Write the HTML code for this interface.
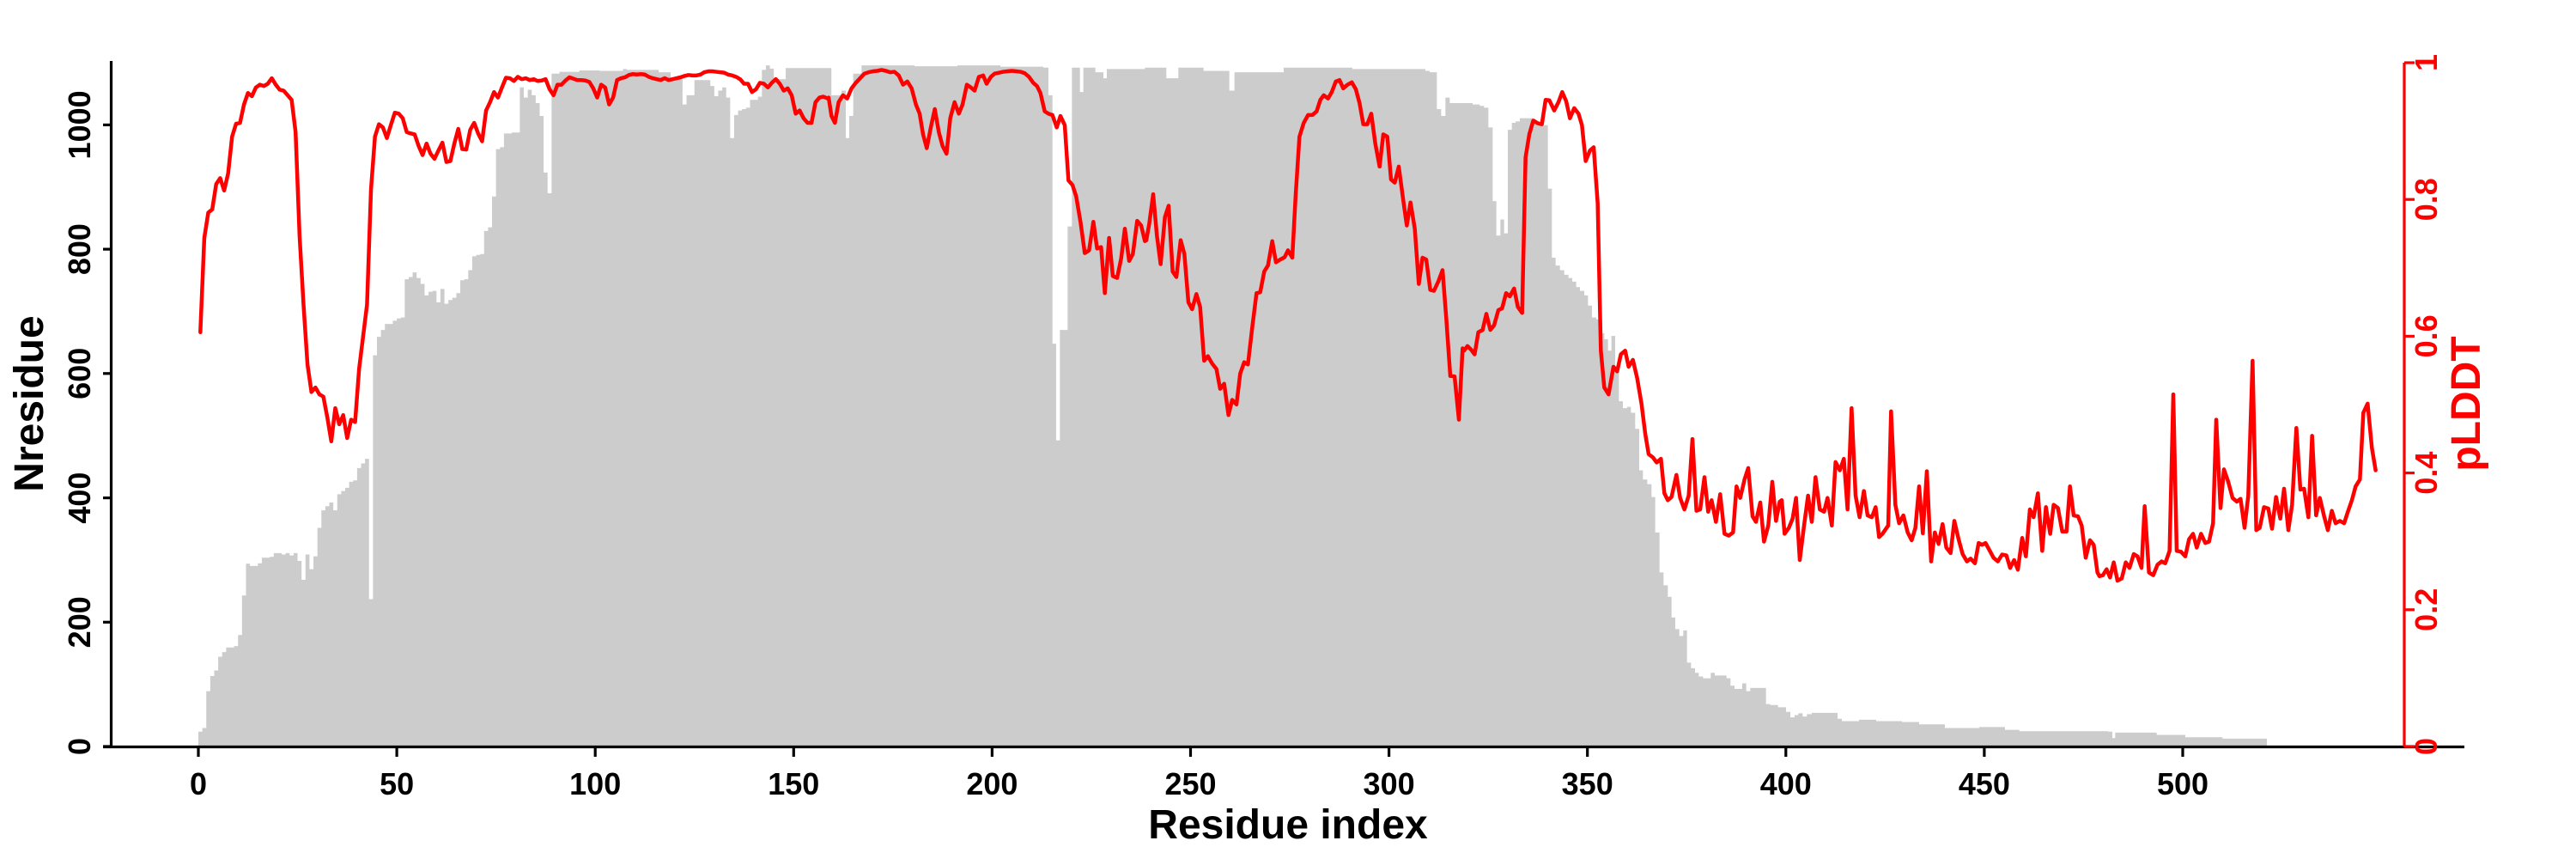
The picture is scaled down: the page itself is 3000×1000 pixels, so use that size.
<!DOCTYPE html>
<html><head><meta charset="utf-8"><style>
html,body{margin:0;padding:0;background:#fff;}
svg{display:block;}
text{font-family:"Liberation Sans",Arial,Helvetica,sans-serif;font-weight:bold;}
</style></head><body>
<svg xmlns="http://www.w3.org/2000/svg" width="3000" height="1000" viewBox="0 0 3000 1000">
<rect x="0" y="0" width="3000" height="1000" fill="#fff"/>
<!-- bars: residue coordinates 1..159 -->
<g transform="translate(231,60) scale(4.622,0.535714)" fill="#cccccc" stroke="none">
<path d="M0,1512 V1478 H1 V1470 H2 V1390 H3 V1357 H4 V1345 H5 V1315 H6 V1305 H7 V1295 H9 V1292 H10 V1268 H11 V1182 H12 V1113 H13 V1118 H15 V1112 H16 V1100 H18 V1098 H19 V1090 H21 V1093 H22 V1090 H23 V1095 H24 V1090 H25 V1107 H26 V1148 H27 V1093 H28 V1125 H29 V1097 H30 V1035 H31 V997 H32 V988 H33 V980 H34 V997 H35 V962 H36 V955 H37 V948 H38 V935 H39 V932 H40 V905 H41 V895 H42 V885 H43 V1190 H44 V660 H45 V620 H46 V605 H47 V592 H49 V585 H50 V580 H51 V578 H52 V495 H53 V490 H54 V480 H55 V492 H56 V505 H57 V530 H58 V522 H59 V520 H60 V545 H61 V516 H62 V548 H63 V540 H64 V535 H65 V525 H66 V497 H67 V495 H68 V475 H69 V445 H70 V442 H71 V440 H72 V390 H73 V382 H74 V315 H75 V212 H76 V208 H77 V178 H79 V176 H81 V78 H82 V100 H83 V83 H84 V95 H85 V112 H86 V140 H87 V263 H88 V308 H89 V48 H91 V44 H96 V41 H101 V42 H107 V38 H108 V40 H116 V45 H119 V60 H122 V115 H123 V95 H125 V62 H129 V75 H130 V97 H131 V85 H132 V78 H133 V100 H134 V188 H135 V138 H136 V128 H137 V125 H138 V122 H139 V105 H141 V98 H142 V40 H143 V30 H144 V37 H145 V60 H148 V36 H159.5 V1512 Z"/>
</g>
<!-- bars: zoom-coordinate segments -->
<g transform="translate(965,60) scale(0.333333,0.535714)" fill="#cccccc">
<path d="M-3,1512 V95 H45 V85 H60 V188 H72 V140 H86 V48 H115 V30 H300 V32 H450 V30 H600 V33 H750 V35 H768 V95 H782 V635 H795 V845 H808 V605 H835 V380 H850 V35 H878 V88 H890 V35 H932 V45 H960 V58 H972 V38 H1140 V1512 Z"/>
</g>
<g transform="translate(1335,60) scale(0.333333,0.535714)" fill="#cccccc">
<path d="M-5,1512 V35 H70 V58 H112 V35 H200 V42 H290 V85 H308 V45 H480 V35 H720 V38 H975 V42 H990 V45 H1015 V125 H1030 V140 H1045 V100 H1060 V112 H1140 V1512 Z"/>
</g>
<g transform="translate(1705,60) scale(0.333333,0.535714)" fill="#cccccc">
<path d="M-5,1512 V115 H55 V118 H70 V122 H85 V165 H100 V325 H113 V400 H127 V365 H140 V395 H153 V170 H167 V155 H180 V152 H195 V145 H240 V155 H260 V160 H293 V298 H307 V448 H320 V465 H335 V475 H350 V485 H365 V492 H378 V500 H392 V512 H405 V520 H420 V530 H433 V552 H447 V578 H462 V582 H475 V612 H490 V625 H503 V650 H515 V618 H528 V690 H541 V760 H555 V775 H570 V772 H583 V785 H598 V820 H612 V910 H625 V930 H640 V940 H655 V968 H668 V1045 H683 V1132 H697 V1160 H712 V1185 H725 V1230 H738 V1255 H752 V1270 H766 V1258 H779 V1328 H793 V1340 H807 V1350 H820 V1358 H835 V1362 H862 V1350 H876 V1356 H917 V1362 H931 V1378 H945 V1385 H972 V1373 H986 V1390 H1000 V1383 H1055 V1418 H1070 V1420 H1097 V1425 H1110 V1435 H1140 V1512 Z"/>
</g>
<g transform="translate(2075,60) scale(0.333333,0.535714)" fill="#cccccc">
<path d="M-5,1512 V1425 H15 V1447 H45 V1442 H58 V1438 H73 V1445 H88 V1440 H105 V1437 H195 V1450 H210 V1455 H270 V1452 H330 V1455 H420 V1457 H480 V1462 H570 V1470 H690 V1468 H780 V1474 H830 V1477 H1140 V1512 Z"/>
</g>
<g transform="translate(2445,60) scale(0.333333,0.535714)" fill="#cccccc">
<path d="M-5,1512 V1478 H45 V1492 H55 V1480 H200 V1485 H300 V1490 H430 V1493 H585 V1512 Z"/>
</g>

<!-- pLDDT line -->
<g fill="none" stroke="#ff0000" stroke-width="4.5" stroke-linejoin="round" stroke-linecap="round">
<g transform="translate(231,60) scale(4.622,0.535714)">
<polyline vector-effect="non-scaling-stroke" points="0.5,610 1.5,405 2.5,350 3.5,343 4.5,288 5.5,275 6.5,302 7.5,265 8.5,185 9.5,157 10.5,155 11.5,115 12.5,90 13.5,97 14.5,78 15.5,72 16.5,75 17.5,70 18.5,58 19.5,72 20.5,83 21.5,85 22.5,95 23.5,105 24.5,175 25.5,400 26.5,550 27.5,680 28.5,740 29.5,730 30.5,745 31.5,750 32.5,795 33.5,847 34.5,775 35.5,810 36.5,790 37.5,840 38.5,800 39.5,805 40.5,690 41.5,620 42.5,550 43.5,300 44.5,185 45.5,158 46.5,165 47.5,188 48.5,160 49.5,133 50.5,135 51.5,145 52.5,175 53.5,178 54.5,180 55.5,205 56.5,225 57.5,200 58.5,222 59.5,233 60.5,215 61.5,198 62.5,240 63.5,238 64.5,200 65.5,168 66.5,212 67.5,213 68.5,170 69.5,155 70.5,178 71.5,195 72.5,128 73.5,110 74.5,88 75.5,100 76.5,78 77.5,57 78.5,58 79.5,64 80.5,55 81.5,60 82.5,58 83.5,62 84.5,60 85.5,64 86.5,63 87.5,60 88.5,82 89.5,95 90.5,72 91.5,72 92.5,63 93.5,56 94.5,59 95.5,62 96.5,62 97.5,63 98.5,66 99.5,80 100.5,100 101.5,72 102.5,78 103.5,115 104.5,100 105.5,62 106.5,58 107.5,56 108.5,51 109.5,49 110.5,50 111.5,49 112.5,50 113.5,55 114.5,58 115.5,60 116.5,62 117.5,58 118.5,62 119.5,60 120.5,58 121.5,56 122.5,53 123.5,51 124.5,52 125.5,52 126.5,50 127.5,45 128.5,43 129.5,43 130.5,44 131.5,45 132.5,46 133.5,50 134.5,52 135.5,55 136.5,60 137.5,70 138.5,70 139.5,88 140.5,82 141.5,68 142.5,70 143.5,78 144.5,68 145.5,60 146.5,70 147.5,85 148.5,80 149.5,95 150.5,135 151.5,128 152.5,145 153.5,155 154.5,155 155.5,110 156.5,100 157.5,98 158.5,102"/>
</g>
<g transform="translate(965,60) scale(0.333333,0.535714)">
<polyline vector-effect="non-scaling-stroke" points="0,100 10,140 22,155 35,110 50,95 65,102 80,80 95,68 110,58 125,48 140,45 155,43 170,42 185,40 200,42 215,45 230,44 245,52 260,72 275,65 290,80 305,115 318,135 330,180 343,210 357,165 371,125 385,175 398,205 412,222 425,145 440,110 455,135 468,115 483,72 497,78 510,85 525,55 540,52 552,70 567,55 580,48 595,46 610,44 625,43 640,42 655,43 670,44 685,47 700,55 715,68 728,75 740,90 755,130 768,135 782,138 797,165 810,140 825,160 838,280 852,290 865,315 880,370 895,438 910,432 925,370 938,428 952,425 965,525 980,405 993,488 1008,492 1022,450 1035,385 1050,455 1063,440 1078,368 1092,378 1105,412 1110,410"/>
</g>
<g transform="translate(1335,60) scale(0.333333,0.535714)">
<polyline vector-effect="non-scaling-stroke" points="0,410 10,375 24,310 37,400 50,462 65,360 78,335 92,478 105,490 120,410 133,440 147,545 160,560 175,527 188,555 202,672 215,662 230,678 245,690 258,733 272,722 287,790 300,757 315,767 328,700 342,675 355,680 370,600 385,525 398,523 412,478 425,465 440,412 453,458 468,452 483,447 495,432 510,448 522,310 535,185 550,155 565,138 580,138 595,130 608,105 620,95 635,102 648,88 662,65 675,62 688,80 703,72 718,67 732,82 745,112 758,158 772,158 786,135 800,200 815,250 828,180 842,185 855,278 868,285 882,250 897,320 910,378 923,328 938,385 952,505 965,448 978,452 992,518 1005,520 1020,500 1035,475 1048,580 1062,705 1077,706 1092,800 1105,645 1110,650"/>
</g>
<g transform="translate(1705,60) scale(0.333333,0.535714)">
<polyline vector-effect="non-scaling-stroke" points="0,650 12,640 25,648 37,658 50,610 65,605 78,570 92,605 105,595 120,562 133,558 147,525 160,532 175,515 188,555 203,568 215,230 228,180 242,150 258,156 272,158 285,105 298,106 315,128 330,110 343,88 357,108 370,145 385,123 400,135 412,160 425,238 440,215 453,208 467,330 478,650 490,730 505,745 522,685 535,695 548,658 563,650 575,685 590,670 605,710 620,765 633,830 645,875 660,882 673,893 688,885 700,960 712,975 725,968 742,920 755,970 770,995 785,965 798,842 812,998 825,995 840,925 853,1000 865,975 880,1022 895,962 910,1048 925,1052 940,1045 952,945 965,970 980,930 993,905 1008,1010 1020,1022 1035,980 1048,1065 1063,1030 1077,935 1090,1020 1103,978 1110,975"/>
</g>
<g transform="translate(2075,60) scale(0.333333,0.535714)">
<polyline vector-effect="non-scaling-stroke" points="0,975 10,1048 25,1035 38,1015 50,970 63,1105 78,1030 92,965 105,1022 118,925 133,995 148,1000 160,970 175,1030 188,892 203,910 217,885 230,995 244,775 258,965 272,1012 287,955 300,1008 315,1012 328,990 340,1055 352,1048 372,1030 382,782 397,985 410,1025 425,1008 440,1045 454,1062 467,1035 480,945 493,1047 507,912 522,1108 535,1045 548,1070 562,1027 575,1078 590,1090 603,1020 618,1060 632,1092 647,1108 660,1102 675,1112 688,1068 700,1072 712,1068 727,1085 740,1100 755,1108 770,1093 785,1095 798,1122 812,1105 825,1126 840,1057 853,1097 867,995 880,1012 895,960 910,1085 923,990 938,1048 950,985 965,992 980,1043 995,1043 1007,945 1020,1008 1035,1010 1048,1030 1062,1100 1077,1062 1090,1072 1103,1132 1110,1140"/>
</g>
<g transform="translate(2445,60) scale(0.333333,0.535714)">
<polyline vector-effect="non-scaling-stroke" points="0,1140 12,1138 25,1125 37,1143 50,1110 63,1150 78,1145 92,1110 105,1122 120,1092 133,1097 147,1122 158,988 173,1132 188,1138 203,1115 217,1108 230,1112 245,1085 258,745 270,1085 285,1087 300,1097 313,1060 327,1048 340,1078 355,1048 370,1068 383,1065 397,1025 408,800 423,992 435,908 450,935 465,970 480,978 493,972 507,1035 520,965 535,672 548,1040 560,1035 575,990 590,993 603,1037 617,968 632,1015 645,950 660,1040 673,985 688,818 702,952 715,950 730,1012 743,835 757,1008 770,970 785,1010 798,1040 812,998 825,1025 840,1020 855,1025 868,1000 882,975 895,945 910,930 922,785 937,765 952,862 965,910"/>
</g>
</g>

<!-- axes -->
<g stroke="#000" stroke-width="3.2" fill="none">
<line x1="129.5" y1="71" x2="129.5" y2="870"/>
<line x1="120" y1="869.5" x2="2870" y2="869.5"/>
<line x1="120" y1="869" x2="129.5" y2="869"/>
<line x1="120" y1="724.3" x2="129.5" y2="724.3"/>
<line x1="120" y1="579.6" x2="129.5" y2="579.6"/>
<line x1="120" y1="434.8" x2="129.5" y2="434.8"/>
<line x1="120" y1="290.1" x2="129.5" y2="290.1"/>
<line x1="120" y1="145.4" x2="129.5" y2="145.4"/>
<line x1="231" y1="869" x2="231" y2="881"/>
<line x1="462.1" y1="869" x2="462.1" y2="881"/>
<line x1="693.2" y1="869" x2="693.2" y2="881"/>
<line x1="924.3" y1="869" x2="924.3" y2="881"/>
<line x1="1155.4" y1="869" x2="1155.4" y2="881"/>
<line x1="1386.5" y1="869" x2="1386.5" y2="881"/>
<line x1="1617.6" y1="869" x2="1617.6" y2="881"/>
<line x1="1848.7" y1="869" x2="1848.7" y2="881"/>
<line x1="2079.8" y1="869" x2="2079.8" y2="881"/>
<line x1="2310.9" y1="869" x2="2310.9" y2="881"/>
<line x1="2542" y1="869" x2="2542" y2="881"/>
</g>
<g stroke="#ff0000" stroke-width="3.2" fill="none">
<line x1="2800" y1="73" x2="2800" y2="869"/>
<line x1="2800" y1="869" x2="2812" y2="869"/>
<line x1="2800" y1="709.8" x2="2812" y2="709.8"/>
<line x1="2800" y1="550.6" x2="2812" y2="550.6"/>
<line x1="2800" y1="391.4" x2="2812" y2="391.4"/>
<line x1="2800" y1="232.2" x2="2812" y2="232.2"/>
<line x1="2800" y1="73" x2="2812" y2="73"/>
</g>

<!-- x tick labels -->
<g font-size="36" fill="#000" text-anchor="middle">
<text x="231" y="925">0</text>
<text x="462.1" y="925">50</text>
<text x="693.2" y="925">100</text>
<text x="924.3" y="925">150</text>
<text x="1155.4" y="925">200</text>
<text x="1386.5" y="925">250</text>
<text x="1617.6" y="925">300</text>
<text x="1848.7" y="925">350</text>
<text x="2079.8" y="925">400</text>
<text x="2310.9" y="925">450</text>
<text x="2542" y="925">500</text>
</g>
<!-- left tick labels -->
<g font-size="36" fill="#000" text-anchor="middle">
<text transform="translate(105,869) rotate(-90)">0</text>
<text transform="translate(105,724.3) rotate(-90)">200</text>
<text transform="translate(105,579.6) rotate(-90)">400</text>
<text transform="translate(105,434.8) rotate(-90)">600</text>
<text transform="translate(105,290.1) rotate(-90)">800</text>
<text transform="translate(105,145.4) rotate(-90)">1000</text>
</g>
<!-- right tick labels -->
<g font-size="36" fill="#ff0000" text-anchor="middle">
<text transform="translate(2838,869) rotate(-90)">0</text>
<text transform="translate(2838,709.8) rotate(-90)">0.2</text>
<text transform="translate(2838,550.6) rotate(-90)">0.4</text>
<text transform="translate(2838,391.4) rotate(-90)">0.6</text>
<text transform="translate(2838,232.2) rotate(-90)">0.8</text>
<text transform="translate(2838,73) rotate(-90)">1</text>
</g>
<!-- titles -->
<text x="1500" y="976" font-size="48" text-anchor="middle" fill="#000">Residue index</text>
<text transform="translate(50,470) rotate(-90)" font-size="48" text-anchor="middle" fill="#000">Nresidue</text>
<text transform="translate(2888,470) rotate(-90)" font-size="48" text-anchor="middle" fill="#ff0000">pLDDT</text>
</svg>
</body></html>
